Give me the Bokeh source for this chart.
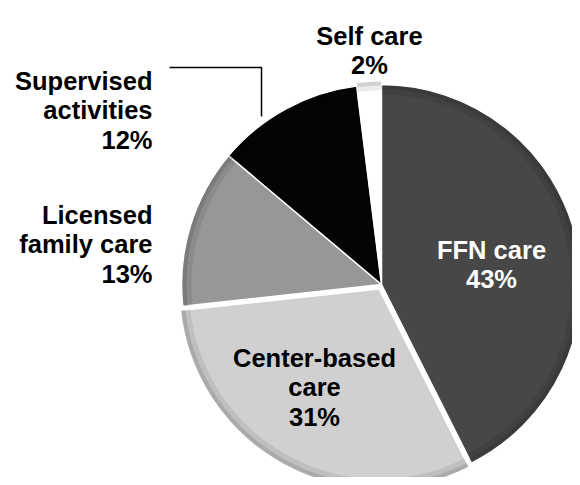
import math
from bokeh.plotting import figure
from bokeh.models import Range1d, ColumnDataSource
from bokeh.core.properties import value
from bokeh.embed import file_html
from bokeh.resources import INLINE

# ---- data ----
categories = ["FFN care", "Center-based care", "Licensed family care", "Supervised activities", "Self care"]
percents = [43, 31, 13, 12, 2]
label_lines = [["FFN care", "43%"], ["Center-based", "care", "31%"],
               ["Licensed", "family care", "13%"], ["Supervised", "activities", "12%"],
               ["Self care", "2%"]]
colors = ["#474747", "#d0d0d0", "#979797", "#040404", "#ffffff"]

# ---- layout (image pixel coords, y down) ----
W, H = 572, 477
OX, OY = 0, 0
def Y(yimg):
    return H - yimg

cx, cy, R = 381, Y(284), 200
explode = [0, 5, 0, 0, 4]
# label anchors: (x, first baseline y in image coords, align)
label_pos = [(491, 249, "center"), (314, 357, "center"), (152, 214, "right"),
             (152, 80, "right"), (369, 35, "center")]
label_colors = ["white", "black", "black", "black", "black"]
line_step = 29.5

p = figure(width=W, height=H, output_backend="svg", toolbar_location=None,
           x_range=Range1d(OX, OX + W), y_range=Range1d(0, H),
           min_border=0, background_fill_color="white")
p.axis.visible = False
p.grid.visible = False
p.outline_line_color = None

total = float(sum(percents))
xs, ys, starts, ends = [], [], [], []
cum = 0.0
for v, d in zip(percents, explode):
    t1 = cum / total * 2 * math.pi
    cum += v
    t2 = cum / total * 2 * math.pi
    tm = (t1 + t2) / 2
    xs.append(cx + d * math.sin(tm))
    ys.append(cy + d * math.cos(tm))
    starts.append(math.pi / 2 - t2)
    ends.append(math.pi / 2 - t1)

src = ColumnDataSource(dict(x=xs, y=ys, start=starts, end=ends, color=colors, cat=categories))
p.wedge(x="x", y="y", radius=R, start_angle="start", end_angle="end",
        fill_color="color", line_color="#ffffff", line_width=1.5, source=src)
# bevel rim shading
for (r0, r1, a) in [(R - 10, R - 5, 0.08), (R - 5, R - 1, 0.18)]:
    p.annular_wedge(x="x", y="y", inner_radius=r0, outer_radius=r1,
                    start_angle="start", end_angle="end",
                    fill_color="black", fill_alpha=a, line_color=None, source=src)

# leader line for Supervised activities
p.line([169, 261, 261], [Y(67), Y(67), Y(116)], line_color="black", line_width=1.5)

for lines, (lx, ly, al), col in zip(label_lines, label_pos, label_colors):
    tx = [lx] * len(lines)
    ty = [Y(ly + i * line_step) for i in range(len(lines))]
    p.text(x=tx, y=ty, text=lines, text_align=al, text_baseline="alphabetic",
           text_font=value("Liberation Sans"), text_font_style="bold",
           text_font_size="25.5px", text_color=col)

open("out.html", "w").write(file_html(p, INLINE))
